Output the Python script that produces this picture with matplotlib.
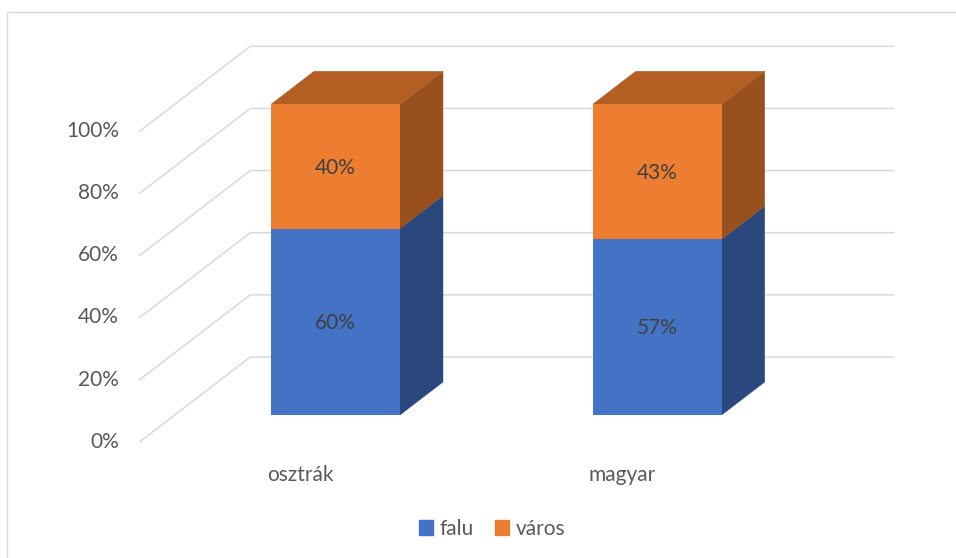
import matplotlib.pyplot as plt
from matplotlib.patches import Polygon, Patch, Rectangle

# Data
categories = ['osztrák', 'magyar']
falu = [60.0, 56.6]
varos = [40.0, 43.4]
y_ticks = [0, 20, 40, 60, 80, 100]
tick_labels = ['0%', '20%', '40%', '60%', '80%', '100%']

# Colours
BLUE, BLUE_SIDE = '#4472C4', '#2A487D'
ORANGE, ORANGE_SIDE, ORANGE_TOP = '#ED7D31', '#98501E', '#B35E23'
GRID = '#D9D9D9'
TXT = '#595959'
FS = 15

plt.rcParams['font.family'] = ['Lato', 'DejaVu Sans']

# Geometry of the fake 3D scene (pixels -> data units)
PX_X = 321.7   # pixels per category
PX_Y = 3.107   # pixels per percent
SLANT = 1.303  # x shift per pixel of depth


def proj(x, v, z):
    # move a point of the bar plane by depth z (in pixels)
    return (x + SLANT * z / PX_X, v + z / PX_Y)


Z_FRONT, Z_BAR, Z_BACK = -26.7, 33.0, 58.0
WIDTH = 129 / PX_X

fig = plt.figure(figsize=(9.56, 5.58), dpi=100)
ax = fig.add_axes([0, 0, 1, 1])
ax.set_xlim(-335.5 / PX_X, (956 - 335.5) / PX_X)
ax.set_ylim(-143 / PX_Y, 415 / PX_Y)
ax.axis('off')

# chart border
fig.patches.append(Rectangle((7 / 956, -0.1), 1.2, 1 - 11.7 / 558 + 0.1,
                             transform=fig.transFigure, fill=False,
                             edgecolor=GRID, lw=1.0))

# walls: gridlines on side wall and back wall
x_left, x_right = -0.5, 1.5
for v in y_ticks:
    p0 = proj(x_left, v, Z_FRONT)
    p1 = proj(x_left, v, Z_BACK)
    p2 = proj(x_right, v, Z_BACK)
    ax.plot([p0[0], p1[0], p2[0]], [p0[1], p1[1], p2[1]],
            color=GRID, lw=1.1, zorder=1, solid_joinstyle='miter')

for v, lab in zip(y_ticks, tick_labels):
    ax.annotate(lab, proj(x_left, v, Z_FRONT), xytext=(-15.1, 0),
                textcoords='offset points', ha='right', va='center',
                fontsize=FS, color=TXT)

xs = list(range(len(categories)))
for i, cat in enumerate(categories):
    ax.annotate(cat, proj(i, 0, Z_FRONT), xytext=(0, -24),
                textcoords='offset points', ha='center', va='center',
                fontsize=FS, color=TXT)

# front faces
ax.bar(xs, falu, WIDTH, color=BLUE, zorder=3)
ax.bar(xs, varos, WIDTH, bottom=falu, color=ORANGE, zorder=3)

# side and top faces
for i in xs:
    xr = i + WIDTH / 2
    xl = i - WIDTH / 2
    segs = [(0, falu[i], BLUE_SIDE), (falu[i], falu[i] + varos[i], ORANGE_SIDE)]
    for b, t, c in segs:
        pts = [(xr, b), (xr, t), proj(xr, t, Z_BAR), proj(xr, b, Z_BAR)]
        ax.add_patch(Polygon(pts, closed=True, facecolor=c, edgecolor=c,
                             lw=0.3, zorder=2))
    top = falu[i] + varos[i]
    pts = [(xl, top), (xr, top), proj(xr, top, Z_BAR), proj(xl, top, Z_BAR)]
    ax.add_patch(Polygon(pts, closed=True, facecolor=ORANGE_TOP,
                         edgecolor=ORANGE_TOP, lw=0.3, zorder=2))

    # value labels
    ax.text(i, falu[i] / 2 - 0.4, f'{falu[i]:.0f}%', ha='center', va='center',
            fontsize=FS, color='#404040', zorder=4)
    ax.text(i, falu[i] + varos[i] / 2 - 0.4, f'{varos[i]:.0f}%', ha='center',
            va='center', fontsize=FS, color='#404040', zorder=4)

handles = [Patch(color=BLUE, label='falu'), Patch(color=ORANGE, label='város')]
fig.legend(handles=handles, loc='center', bbox_to_anchor=(492 / 956, 1 - 529 / 558),
           ncol=2, frameon=False, fontsize=FS, labelcolor=TXT,
           handlelength=0.7, handleheight=0.7, handletextpad=0.3,
           columnspacing=1.0)

fig.savefig('out.png', dpi=100)
